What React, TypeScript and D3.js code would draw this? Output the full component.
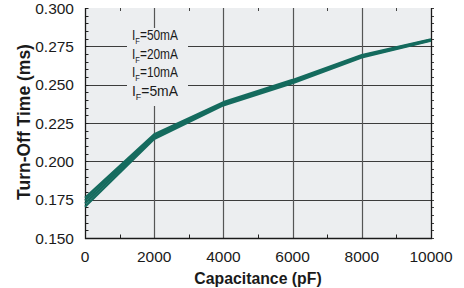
import React, { useEffect, useRef } from 'react';
import * as d3 from 'd3';

// capacitance in pF
const capacitance = [0, 2000, 4000, 6000, 8000, 10000];

// turn-off time (ms) per forward current
const seriesNames = ['IF=50mA', 'IF=20mA', 'IF=10mA', 'IF=5mA'];
const if50 = [0.1762, 0.2176, 0.2386, 0.2531, 0.2693, 0.2796];
const if20 = [0.1744, 0.2166, 0.2379, 0.2524, 0.2688, 0.2793];
const if10 = [0.1724, 0.2156, 0.2372, 0.2517, 0.2683, 0.279];
const if5 = [0.1704, 0.2146, 0.2365, 0.251, 0.2678, 0.2787];

const xTicks = [0, 2000, 4000, 6000, 8000, 10000];
const yTicks = [0.15, 0.175, 0.2, 0.225, 0.25, 0.275, 0.3];
const legendLabels = ['50mA', '20mA', '10mA', '5mA'];

const App: React.FC = () => {
	const ref = useRef<SVGSVGElement>(null);

	const W = 464;
	const H = 288;
	const margin = { top: 8, right: 33, bottom: 50, left: 85 };
	const width = W - margin.left - margin.right;
	const height = H - margin.top - margin.bottom;

	useEffect(() => {
		if (!ref.current) return;
		const svg = d3.select(ref.current);
		svg.selectAll('*').remove();

		const font = '"Liberation Sans", Arial, Helvetica, sans-serif';
		const g = svg
			.append('g')
			.attr('transform', `translate(${margin.left},${margin.top})`);

		const x = d3.scaleLinear().domain([0, 10000]).range([0, width]);
		const y = d3.scaleLinear().domain([0.15, 0.3]).range([height, 0]);

		// plot background
		g.append('rect')
			.attr('width', width)
			.attr('height', height)
			.attr('fill', '#eceef0');

		// grid
		g.selectAll('.hgrid')
			.data(yTicks.slice(1, -1))
			.enter()
			.append('line')
			.attr('x1', 0)
			.attr('x2', width)
			.attr('y1', (d) => Math.round(y(d)) + 0.5)
			.attr('y2', (d) => Math.round(y(d)) + 0.5)
			.attr('stroke', '#3c3c3c')
			.attr('stroke-width', 1);

		g.selectAll('.vgrid')
			.data(xTicks.slice(1, -1))
			.enter()
			.append('line')
			.attr('x1', (d) => Math.round(x(d)) + 0.5)
			.attr('x2', (d) => Math.round(x(d)) + 0.5)
			.attr('y1', 0)
			.attr('y2', height)
			.attr('stroke', '#555')
			.attr('stroke-width', 1.2);

		// minor ticks
		const yMinor = d3.range(0.15, 0.3001, 0.005);
		g.selectAll('.ytl')
			.data(yMinor)
			.enter()
			.append('line')
			.attr('x1', 0)
			.attr('x2', 3.5)
			.attr('y1', (d) => Math.round(y(d)) + 0.5)
			.attr('y2', (d) => Math.round(y(d)) + 0.5)
			.attr('stroke', '#222');
		g.selectAll('.ytr')
			.data(yMinor)
			.enter()
			.append('line')
			.attr('x1', width)
			.attr('x2', width + 3)
			.attr('y1', (d) => Math.round(y(d)) + 0.5)
			.attr('y2', (d) => Math.round(y(d)) + 0.5)
			.attr('stroke', '#444');
		const xMinor = [1000, 3000, 5000, 7000, 9000];
		g.selectAll('.xtb')
			.data(xMinor)
			.enter()
			.append('line')
			.attr('x1', (d) => Math.round(x(d)) + 0.5)
			.attr('x2', (d) => Math.round(x(d)) + 0.5)
			.attr('y1', height)
			.attr('y2', height - 3.5)
			.attr('stroke', '#222');
		g.selectAll('.xtt')
			.data(xMinor)
			.enter()
			.append('line')
			.attr('x1', (d) => Math.round(x(d)) + 0.5)
			.attr('x2', (d) => Math.round(x(d)) + 0.5)
			.attr('y1', 0)
			.attr('y2', 3)
			.attr('stroke', '#444');

		// frame (left, bottom, right)
		g.append('path')
			.attr('d', `M0.5,0V${height + 0.5}H${width + 0.5}V0`)
			.attr('fill', 'none')
			.attr('stroke', '#1a1a1a')
			.attr('stroke-width', 1.3);

		// legend box covers grid
		const lg = g.append('g');
		lg.append('rect')
			.attr('x', 42)
			.attr('y', 20)
			.attr('width', 61)
			.attr('height', 78)
			.attr('fill', '#eceef0');
		legendLabels.forEach((lab, i) => {
			const t = lg
				.append('text')
				.attr('x', 47)
				.attr('y', 32 + i * 18.6)
				.attr('font-family', font)
				.attr('font-size', 15)
				.attr('fill', '#1a1a1a')
				.attr('textLength', lab.length > 4 ? 55 : 46)
				.attr('lengthAdjust', 'spacingAndGlyphs');
			t.append('tspan').text('I');
			t.append('tspan')
				.attr('font-size', 9.5)
				.attr('dy', 4)
				.text('F');
			t.append('tspan').attr('dy', -4).text('=' + lab);
		});

		// curves
		const series = [if50, if20, if10, if5];
		const line = d3
			.line<number>()
			.x((_, i) => x(capacitance[i]))
			.y((d) => y(d));
		g.selectAll('.curve')
			.data(series)
			.enter()
			.append('path')
			.attr('class', 'curve')
			.attr('d', (d) => line(d))
			.attr('fill', 'none')
			.attr('stroke', '#156b5e')
			.attr('stroke-width', 2.2)
			.attr('stroke-linejoin', 'round')
			.append('title')
			.text((_, i) => seriesNames[i]);

		// tick labels
		g.selectAll('.ylab')
			.data(yTicks)
			.enter()
			.append('text')
			.attr('x', -11)
			.attr('y', (d) => y(d) + 5.5)
			.attr('text-anchor', 'end')
			.attr('font-family', font)
			.attr('font-size', 15.5)
			.attr('fill', '#1a1a1a')
			.text((d) => d3.format('.3f')(d));

		g.selectAll('.xlab')
			.data(xTicks)
			.enter()
			.append('text')
			.attr('x', (d) => x(d))
			.attr('y', height + 24)
			.attr('text-anchor', 'middle')
			.attr('font-family', font)
			.attr('font-size', 15.5)
			.attr('fill', '#1a1a1a')
			.text((d) => String(d));

		// axis titles
		g.append('text')
			.attr('x', width / 2)
			.attr('y', height + 46)
			.attr('text-anchor', 'middle')
			.attr('font-family', font)
			.attr('font-weight', 'bold')
			.attr('font-size', 15.8)
			.attr('fill', '#1a1a1a')
			.text('Capacitance (pF)');

		g.append('text')
			.attr('transform', `translate(${-55},${height / 2 - 1}) rotate(-90)`)
			.attr('text-anchor', 'middle')
			.attr('font-family', font)
			.attr('font-weight', 'bold')
			.attr('font-size', 17.5)
			.attr('fill', '#1a1a1a')
			.text('Turn-Off Time (ms)');
	}, []);

	return (
		<svg
			ref={ref}
			width={W}
			height={H}
			style={{ position: 'absolute', left: 0, top: 0, background: '#fff' }}
		/>
	);
};

export default App;
